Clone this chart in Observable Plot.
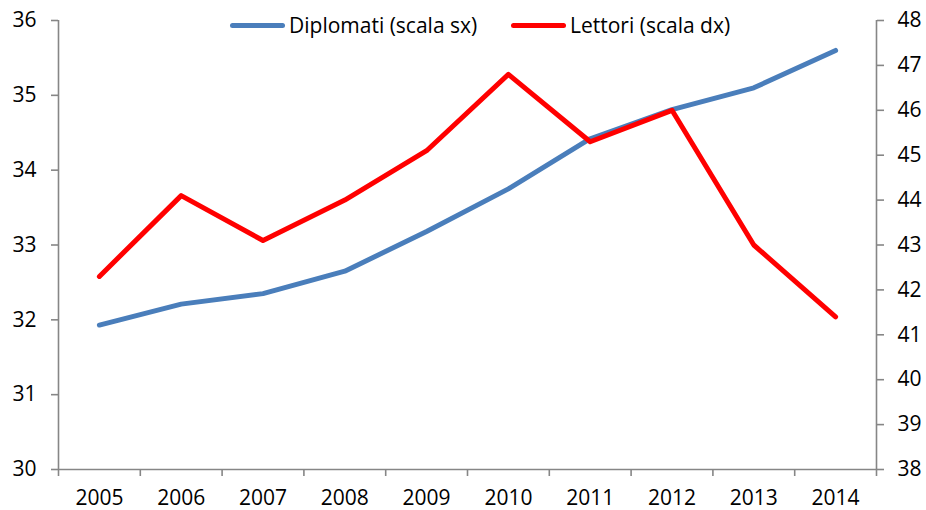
<!DOCTYPE html>
<html><head><meta charset="utf-8">
<script src="https://cdn.jsdelivr.net/npm/d3@7"></script>
<script src="https://cdn.jsdelivr.net/npm/@observablehq/plot@0.6"></script>
<style>
body{margin:0;background:#fff;font-family:"Open Sans",sans-serif;}
#wrap{position:relative;width:926px;height:510px;}
.leg{position:absolute;top:10px;height:30px;font-size:21px;color:#000;display:flex;align-items:center;white-space:nowrap;}
.leg span.sw{display:inline-block;width:55px;height:5px;border-radius:3px;margin-right:4px;}
</style></head>
<body><div id="wrap"></div>
<script>
const years = [2005,2006,2007,2008,2009,2010,2011,2012,2013,2014];
const diplomati = [31.93,32.21,32.35,32.65,33.18,33.75,34.42,34.81,35.10,35.60];
const lettori = [42.3,44.1,43.1,44.0,45.1,46.8,45.3,46.0,43.0,41.4];
const leftTicks = [30,31,32,33,34,35,36];
const rightTicks = [38,39,40,41,42,43,44,45,46,47,48];
const seriesNames = ["Diplomati (scala sx)","Lettori (scala dx)"];
const colors = ["#4A7EBB","#FF0000"];

const toLeft = v => 30 + (v - 38) * 6 / 10;
const dData = years.map((y,i)=>({year:y, v:diplomati[i]}));
const lData = years.map((y,i)=>({year:y, v:toLeft(lettori[i])}));
const bounds = d3.range(2004.5, 2015, 1);
const axisColor = "#868686";

const chart = Plot.plot({
  width: 926, height: 510,
  marginLeft: 58, marginRight: 50, marginTop: 20, marginBottom: 41,
  style: {fontFamily: "'Open Sans', sans-serif", fontSize: "21px", color: "#000", background: "#fff"},
  x: {type: "linear", domain: [2004.5, 2014.5]},
  y: {domain: [30, 36]},
  marks: [
    Plot.axisY({ticks: leftTicks, tickSize: 7, tickPadding: 15, stroke: axisColor, strokeWidth: 1.6, fill: "#000", label: null, tickFormat: d => d}),
    Plot.axisY({anchor: "right", ticks: rightTicks.map(toLeft), tickSize: 7, tickPadding: 14, stroke: axisColor, strokeWidth: 1.6, fill: "#000", label: null, tickFormat: d => Math.round(38 + (d - 30) * 10 / 6)}),
    Plot.axisX({ticks: bounds, tickSize: 7, stroke: axisColor, strokeWidth: 1.6, tickFormat: () => "", label: null}),
    Plot.axisX({ticks: years, tickSize: 0, tickPadding: 21, fill: "#000", tickFormat: d => String(d), label: null}),
    Plot.ruleX([2004.5, 2014.5], {stroke: axisColor, strokeWidth: 1.6}),
    Plot.ruleY([30], {stroke: axisColor, strokeWidth: 1.6}),
    Plot.line(dData, {x: "year", y: "v", stroke: colors[0], strokeWidth: 5}),
    Plot.line(lData, {x: "year", y: "v", stroke: colors[1], strokeWidth: 5})
  ]
});
const wrap = document.getElementById("wrap");
wrap.appendChild(chart);
const legPos = [230, 511];
seriesNames.forEach((n,i)=>{
  const d = document.createElement("div");
  d.className = "leg";
  d.style.left = legPos[i] + "px";
  d.innerHTML = `<span class="sw" style="background:${colors[i]}"></span>${n}`;
  wrap.appendChild(d);
});
</script></body></html>
